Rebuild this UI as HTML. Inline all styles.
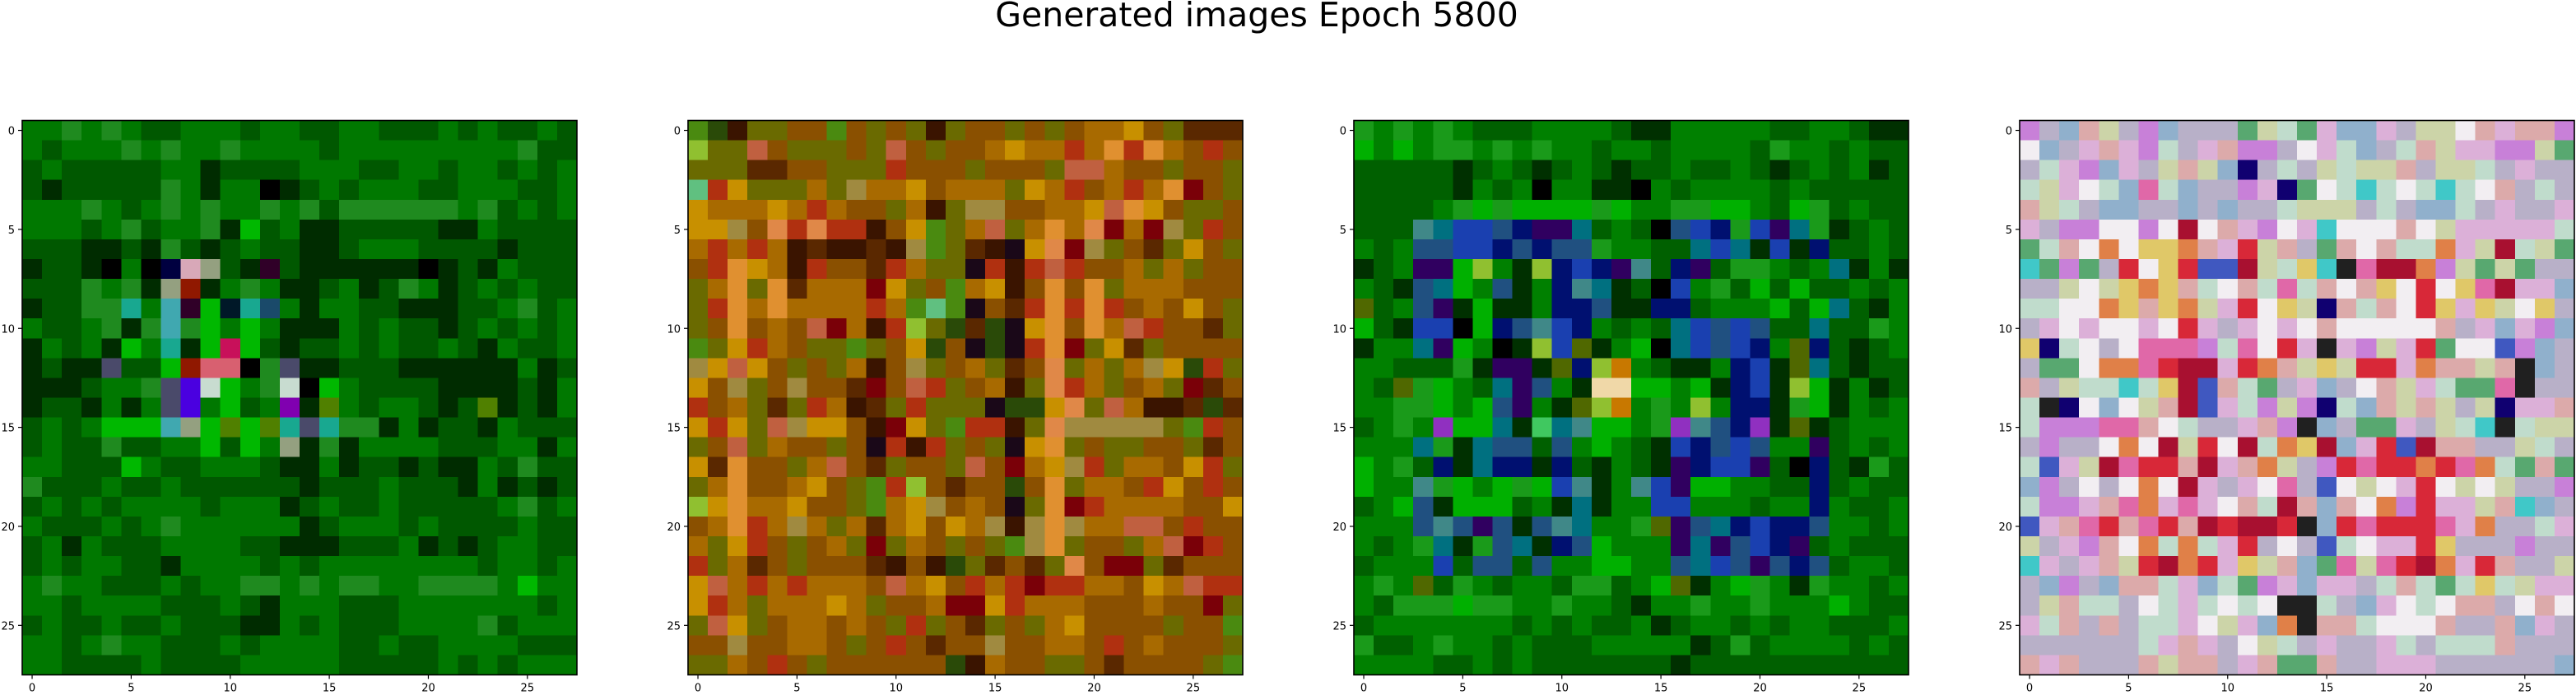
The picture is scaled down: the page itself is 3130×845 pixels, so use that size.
<!DOCTYPE html>
<html><head><meta charset="utf-8">
<style>
html,body{margin:0;padding:0;background:#fff;}
svg{display:block;}
text{font-family:"DejaVu Sans","Liberation Sans",sans-serif;}
</style></head>
<body>
<svg id="fig" width="3130" height="845" viewBox="0 0 3130 845" xmlns="http://www.w3.org/2000/svg">
<rect width="3130" height="845" fill="#fff"/>
<text x="1527" y="32" font-size="41" text-anchor="middle" fill="#000">Generated images Epoch 5800</text>
</svg>
<script>
// ---- data: per-panel palettes and 28x28 pixel rows ----
const tickValues = [0, 5, 10, 15, 20, 25];
const gridSize = 28;

const pal1 = {G:'#007800',D:'#005800',K:'#002c00',L:'#1f8a1f',B:'#00b800',X:'#000000',P:'#d8a8b8',N:'#000040',R:'#c8105a',V:'#4a00e0',W:'#c8dcd0',C:'#40a8b0',O:'#94a080',M:'#8000b0',S:'#d86070',T:'#18a890',r:'#901800',m:'#300028',x:'#001828',b:'#1a4a6a',q:'#4a4a6a',o:'#508000'};
const rows1 = [
"GGLGLGDDGGGDGGDDGGDDDGDGDDGD","GDGGGLGLGGLGGGGDGGGGGGGGGLDD","DGDDDDDGGKDDDDGGGDDGGDGGDGDG","DKDDDDDLGKGGXKDGDGGGDDGGGDDG",
"GGGLGDGLGLGGLGLDLLLLLLGLDGDG","GGGDGLDGGLKBDGKKDDDDDKKGDDDD","DDDKKDKLDKDGDDKKDGGGDDDDKDDD","KDDKXGXNPODKmDKKKKKKXKDKGDDD",
"DDDLGLKOrKGLGKKDGKDLGKDGDGDD","KDDLLTGCmBxTbGKGGDDKKKDDGLDG","GDDGLKLCLBGBGKKKGDGDDKDGDGDG","KGDGKBGTKBRBDKDDGDGDDGDKGDDG",
"KDKKqDDBrSSXLqKKDDDKKKKKKGKD","KKKDGGLqVWBGLWXBGDDDDKKKKDKG","KDDKGKGqVGBDGMKoGDGGDKDoKDKG","DGDGBBBCOBoBoTqTLLKGKDDKGDDD",
"DGDDLDDGGBDBGOKLKGGGGDDDGGKG","GGDDDBGDDGGGDKKGKDDKDKKGDLDD","LDDDGDDGDDDDDDKDDDGDDDKGKDKD","DGDGDGGGGDGGGKDGDDGDDDDDGLDG",
"GDDDGDGLGGGGGGKDGGGDGDDDDGDD","DGKGDDDGGGGDDKKKDDDGKDKDGGDD","DGDGGDDKGGGGDGDGGGGGGGGDGGDG","GLGGDDDGDGGLLGLGLLGGLLLLGBGG",
"GGDGGGGDDDGDKGGGDDDGGGGGGGDG","DGDDGDDGDDDKKGDGDDDGGGGLDGGG","GGDGLGGDDDGDGGGGDDGDDGGGGDDD","GGDDDDGDDDDGGGGGDDDDDGDGDGGG"];

const pal2 = {O:'#a86a00',B:'#8a5000',D:'#5a2800',K:'#3a1400',Y:'#c89000',L:'#e09030',R:'#b03010',r:'#7a0008',V:'#6a6a00',G:'#4a8a10',g:'#90c030',P:'#c06040',S:'#e08848',X:'#1a0818',A:'#a08a40',h:'#2a4a08',T:'#60c080'};
const rows2 = [
"GhKVVBBGBVBVKVBBVBVBOOYBVDDD","gVVPBVVVBVPBVBBOYOOROLRLOBRB","VVVDDBBVVVRBBBVBBBVPPOBBVBBV","TRYVVVOVAOOYBOOOVYORBOROLrBV",
"YOOOYOROBBVOKVAABBOOYPLYBVVB","YYABSRSRRKBYGVOPVOLOSrOrAVRB","OROROKDKKDKAGVDKXYSrAVBDVYBV","BRLYOKRBBDROVVXRKRPRBBOVOVBB",
"VOLVLDOOOrYVBGOYKBLBLVOOOBBB","VRLOLOOOOROGTGXBDRLRLRBOBYBV","VBLBOBPrOKRgVhDhXYLBLOPRBBDV","GVYROBVVGVBYhBXhXRLrVYDVBBBB",
"AYPYBVBVOKBAVBOVDBSVOVOAYhRV","YBAVBABBDrBPRVBOKVSROVBOVrDB","RBOVDVROKDVRVVVXhhYSVPOKKDhD","YRYVPAYYBKrYVGRRKVSAAAAAVGRB",
"VBPVOBBVBXRKRVBVXYLVBVVBBVDB","YDLBBVOPBDVBBVPBrOYARVOOBYRV","VOLBBOYBVGRgBDBBhBLVOOBRYBRB","gYLOOYBBVGOYABOBXVLrROOOOBBY",
"BOLROAOVODOYBYOAKALAOOPPBRBB","OVYRBVBOVrVOBVBVGALVBBVOPrRB","RVODBVBBBDKBKhVDBDVSBrrVDBBB","YPOROROOOBPOYBRORrRROOBYOPRR",
"YROVOOOYOVBBOrrYROOOBBBOBBrV","VPYVBOOBOBVRVBDVBVOYBBBBVBBG","BBABBOOBVBRBDBBABBOOBRBOBBBV","VVOBRBVBBBBBBhKOBBVVBDBBBBVG"];

const pal3 = {G:'#008000',D:'#006000',K:'#003000',L:'#1a9a1a',B:'#00b000',N:'#001070',U:'#1a40b0',b:'#205080',T:'#007080',P:'#300060',W:'#f0d8a8',X:'#000000',O:'#c87800',y:'#90c030',g:'#40c860',M:'#9030c0',C:'#408888',v:'#506800'};
const rows3 = [
"LGLGLGDDDGGGGDKKGGGGGDDGGDKK","BGBGLLGLGLGGDGGDGGGGDLGGDGDD","DDDDDKDGDKDGDKDDGDDGDKDGDGKD","DDDDDKGDGXGGKKXGDGGGGDGDDDDD",
"DDDDGLBLBBBBLBGGLLBBGDBLDGDD","DDDCTUUbNPPTDGDXbUNLUPTLKDGD","GDGbbUUNbNbbLGGDDTUTKUKNDDGD","KDGPPByGKyNUNPCDNPDLLGDGTKGK",
"GDKbTBGbKGNCTKDXUGLDBDBDDGDG","vDGbPKBKKGNNbKKNNDGGGBDBTDKG","BDKUUXBNbCUNGDGDTUbUbDDTDDLG","KGGTPBGXKyUvKGBXTUbUNGvNDKDG",
"GGDDDLKPPKvNyOGDKKGNUKvTDKDD","GDvLBGDTPbGKWWBBGBKNUKyBKGKD","GGLLBGBbPGKvyOGLGyGNNKLBKGDG","DGLGMBBTKgTCBBGLMCbNMKvKDGGG",
"GGGTLKTbbDbGBGDKUNbUbGGPDGDG","BGLDNKTNNKNDKGDKPNUUPDXNDKLD","BGGCLBGBLBUCKGCUPBBGGDDNDGDD","DGBbKBBBDGKTKGGUUGGGDGGNGDDG",
"GGGbCbPbKbCTGGLvPbTNUNNbGGDG","GDGLTKLbTKNbBGGGPTPbUNPDGDDD","DGGGUDbbDbGGBBGGbTUbPbNbDGGD","GLGvDLGDGGDLLDGBvKGBLGKLGGDG",
"GDLLLBLLGGLGGDKGGLGGLGGGBGDD","DGGGGGGGDGDGDDGKDGGDGDGGDDDG","LDDGLGGDGDDDGGGGGKDLDGGGGDGD","GGGGDDGDGDDDDDDDKDDDDDDDDDDD"];

const pal4 = {a:'#b8b0c8',p:'#dcb0d8',w:'#f2eef2',c:'#c0dccc',g:'#ccd4a8',m:'#c880d8',R:'#d82838',r:'#a81030',O:'#e08048',Y:'#e0c868',N:'#100070',U:'#4058c0',G:'#58a870',T:'#40c8c8',P:'#e068a8',K:'#202020',s:'#dcaaaa',b:'#90b0cc'};
const rows4 = [
"mabsgambaaaGgcGpbbpaggwspssm","wbapspmcapsmmawpcbacsgppmmgG","acpmbpagsgbNacagcggsaggcapaa","cgpwcbPcbaampNGwcTcwcTcwsaca",
"sgcabbaababaacgggacabbcapaap","pammwwmwrwspmwpTwwwswgpppppc","GcswOwYYOspRgsaGswsccOpgrcgG","TGmGaRwYRUUrgcYTKPrrOmgGgGaa",
"aagwgYOYscwscPcswsYwRwYPrppb","ccwwOYsYOgpRwYgNscswRYpYgwYa","apwpwwpwRpapwpwswwwwwsapbpmb","YNcwawPPPmcPwRpKpmgpRGwwUmba",
"aGGwOOPRrrpROsgYgRRpOssgsKba","sagccTcYrUscGapbawsgpcGGPKaa","cKNwbwgsrUpcmgmNcbsgsgagNpps","cmmmPPswcaapsmKbaGGpagcTKcgg",
"amaawOwrgRwrcOYrbpRUrssaagca","cUpgrPRRsrpsOgamRPRRORPOcGsG","bmawawOwrpapwPaUwgwpRwgwgaam","cmmpsPOpPpwscrsbswOmRppgsTba",
"UpsPRsPRsrRrrRKbRPRRRPpOaacp","gapmswOcOcpRawaUcwppRYaaamaa","TpapsgRrORpYgsbGPgPRrOpRsaag","abmabsscpbcGmpbppacscGcYcgpp",
"agsccawcpcwcwKKcabpwcwssawsw","pcsasaccpwgpbOKsscwwwsaasbpa","aaaaaacpspawgcapaapcacccsaaa","spsaaasgssapsGGsaapppaaaaaab"];

const panelPalettes = [pal1, pal2, pal3, pal4];
const panelRows = [rows1, rows2, rows3, rows4];

// ---- layout ----
const NS = 'http://www.w3.org/2000/svg';
const fig = document.getElementById('fig');
const axTop = 146.5, axSize = 674, axLefts = [27, 836, 1645, 2454];
const cell = axSize / gridSize;

function mk(tag, attrs) {
  const el = document.createElementNS(NS, tag);
  for (const k in attrs) el.setAttribute(k, attrs[k]);
  return el;
}

panelRows.forEach((rows, pi) => {
  const left = axLefts[pi];
  const xScale = v => left + (v + 0.5) * cell;
  const yScale = v => axTop + (v + 0.5) * cell;
  const g = mk('g', {});
  
  
  fig.appendChild(g);
  const img = mk('g', {'shape-rendering': 'crispEdges'});
  
  
  g.appendChild(img);
  const pal = panelPalettes[pi];
  for (let r = 0; r < gridSize; r++) {
    const row = (rows[r] || '').padEnd(gridSize, 'G');
    for (let c = 0; c < gridSize; c++) {
      const col = pal[row[c]] || pal.G || pal.a;
      const rect = mk('rect', {x: (xScale(c) - cell / 2).toFixed(2), y: (yScale(r) - cell / 2).toFixed(2), width: (cell + 0.6).toFixed(2), height: (cell + 0.6).toFixed(2), fill: col});
      
      
      img.appendChild(rect);
    }
  }
  const frame = mk('rect', {x: left, y: axTop, width: axSize, height: axSize, fill: 'none', stroke: '#000', 'stroke-width': 1.6});
  
  
  g.appendChild(frame);
  const bottom = axTop + axSize;
  tickValues.forEach(t => {
    const x = xScale(t);
    const xt = mk('line', {x1: x, x2: x, y1: bottom, y2: bottom + 5, stroke: '#000', 'stroke-width': 1.2});
    
    
    g.appendChild(xt);
    const xl = mk('text', {x: x, y: bottom + 20, 'font-size': 13, 'text-anchor': 'middle'});
    xl.textContent = t;
    
    
    g.appendChild(xl);
    const y = yScale(t);
    const yt = mk('line', {x1: left - 5, x2: left, y1: y, y2: y, stroke: '#000', 'stroke-width': 1.2});
    
    
    g.appendChild(yt);
    const yl = mk('text', {x: left - 9, y: y + 5, 'font-size': 13, 'text-anchor': 'end'});
    yl.textContent = t;
    
    
    g.appendChild(yl);
  });
});
</script>
</body></html>
